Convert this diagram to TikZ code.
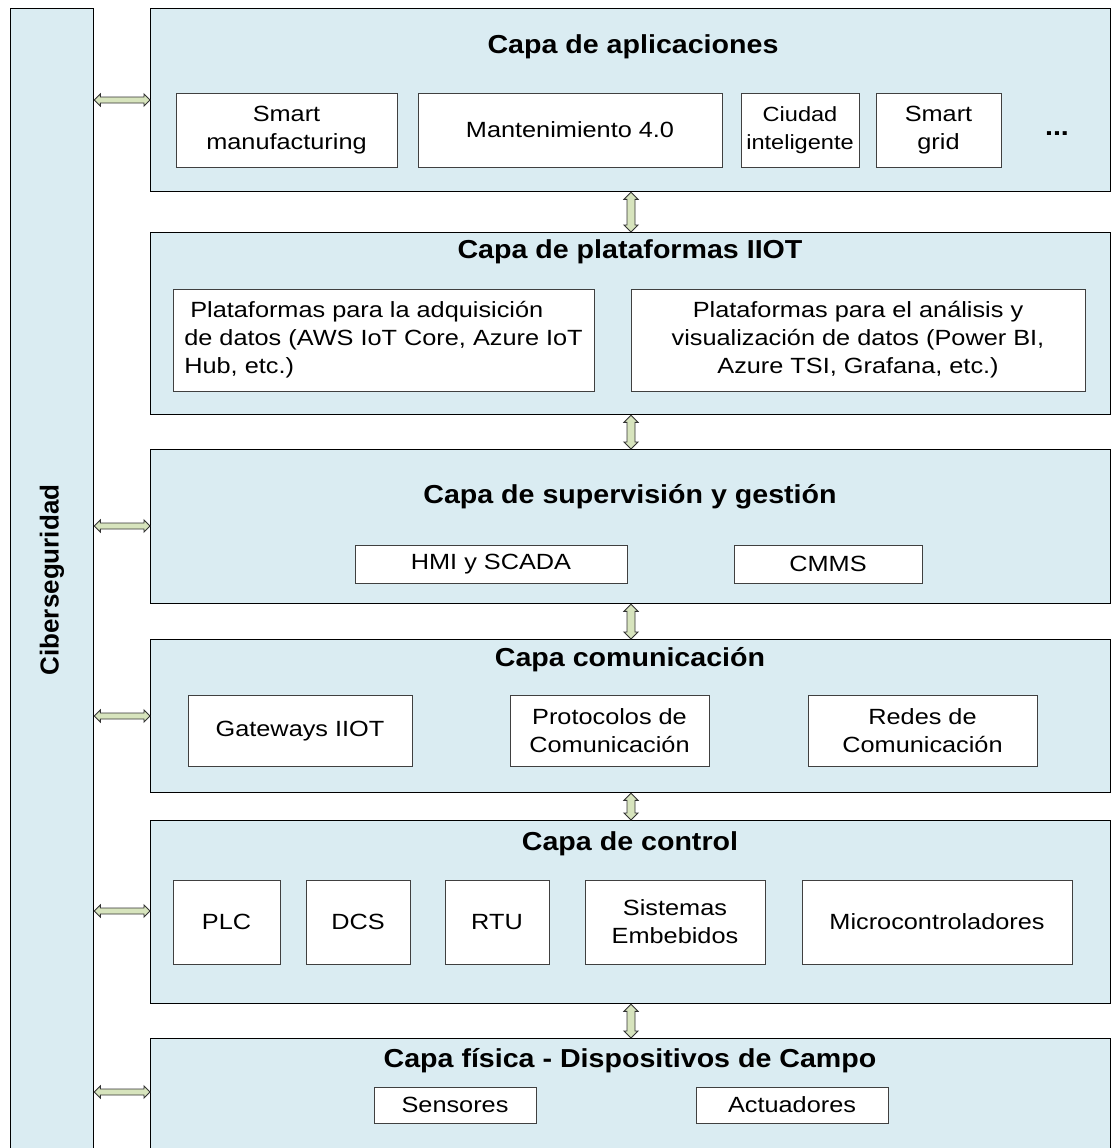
\documentclass[tikz,border=0pt]{standalone}
\usepackage{fontspec}
\setmainfont{Liberation Sans}
\newfontfamily\bodyfam[FakeStretch=1.15]{Liberation Sans}
\newfontfamily\titlefam[FakeStretch=1.1]{Liberation Sans}
\usetikzlibrary{calc}

\definecolor{layerblue}{HTML}{DAECF2}
\definecolor{arrowgreen}{HTML}{D7E4BD}
\definecolor{boxedge}{HTML}{404040}

\newcommand\titlefont{\titlefam\fontsize{26}{30}\selectfont\bfseries}
\newcommand\sidefont{\fontsize{26}{30}\selectfont\bfseries}
\newcommand\bodyfont{\bodyfam\fontsize{22}{28}\selectfont}
\newcommand\smallbodyfont{\bodyfam\fontsize{20.5}{28}\selectfont}

% horizontal double block arrow from #1 (left tip) to #2 (right tip)
\newcommand\hdbl[2]{%
  \draw[blockarrow] (#1) -- ++(6,-6) -- ++(0,3) -- ($(#2)+(-6,-3)$) -- ++(0,-3)
    -- (#2) -- ++(-6,6) -- ++(0,-3) -- ($(#1)+(6,3)$) -- ++(0,3) -- cycle;}
% vertical double block arrow from #1 (top tip) to #2 (bottom tip)
\newcommand\vdbl[2]{%
  \draw[blockarrow] (#1) -- ++(7,7) -- ++(-3,0) -- ($(#2)+(4,-7)$) -- ++(3,0)
    -- (#2) -- ++(-7,-7) -- ++(3,0) -- ($(#1)+(-4,7)$) -- ++(-3,0) -- cycle;}

\begin{document}
\begin{tikzpicture}[x=1pt,y=-1pt,
  layer/.style={draw=black, line width=1.3pt, fill=layerblue, anchor=north west, inner sep=0pt},
  item/.style={draw=boxedge, line width=1pt, fill=white, align=center, font=\bodyfont, inner sep=1pt},
  layertitle/.style={font=\titlefont, inner sep=0pt},
  blockarrow/.style={draw=black!80, line width=0.9pt, fill=arrowgreen, line join=miter}]

\clip (0,0) rectangle (1112,1148);
\fill[white] (0,0) rectangle (1112,1148);

% security bar on the left
\node[layer, minimum width=83pt, minimum height=1180pt] (sec) at (10,8) {};
\node[rotate=90, font=\sidefont] (sectext) at (52,580) {Ciberseguridad};

% layers
\node[layer, minimum width=960pt, minimum height=183pt] (L1) at (150,8) {};
\node[layer, minimum width=960pt, minimum height=182pt] (L2) at (150,232) {};
\node[layer, minimum width=960pt, minimum height=154pt] (L3) at (150,449) {};
\node[layer, minimum width=960pt, minimum height=153pt] (L4) at (150,639) {};
\node[layer, minimum width=960pt, minimum height=183pt] (L5) at (150,820) {};
\node[layer, minimum width=960pt, minimum height=160pt] (L6) at (150,1038) {};

% layer titles
\node[layertitle] (T1) at (633,47) {Capa de aplicaciones};
\node[layertitle] (T2) at (630,252) {Capa de plataformas IIOT};
\node[layertitle] (T3) at (630,497) {Capa de supervisión y gestión};
\node[layertitle] (T4) at (630,660) {Capa comunicación};
\node[layertitle] (T5) at (630,844) {Capa de control};
\node[layertitle] (T6) at (630,1061) {Capa física - Dispositivos de Campo};

% application layer
\node[item, minimum width=221pt, minimum height=74pt] (a1) at (286.5,130) {Smart\\manufacturing};
\node[item, minimum width=304pt, minimum height=74pt] (a2) at (570,130) {Mantenimiento 4.0};
\node[item, minimum width=118pt, minimum height=74pt, font=\smallbodyfont] (a3) at (800,130) {Ciudad\\inteligente};
\node[item, minimum width=125pt, minimum height=74pt] (a4) at (938.5,130) {Smart\\grid};
\node[font=\titlefont] (a5) at (1057,134) {...};

% platform layer
\node[item, minimum width=421pt, minimum height=102pt, align=left] (p1) at (383.5,340)
  {\hspace{6pt}Plataformas para la adquisición\\de datos (AWS IoT Core, Azure IoT\\Hub, etc.)};
\node[item, minimum width=454pt, minimum height=102pt] (p2) at (858,340)
  {Plataformas para el análisis y\\visualización de datos (Power BI,\\Azure TSI, Grafana, etc.)};

% supervision layer
\node[item, minimum width=272pt, minimum height=38pt] (s1) at (491,564) {HMI y SCADA};
\node[item, minimum width=188pt, minimum height=38pt] (s2) at (828,564) {CMMS};

% communication layer
\node[item, minimum width=224pt, minimum height=71pt] (c1) at (300,731) {Gateways IIOT};
\node[item, minimum width=199pt, minimum height=71pt] (c2) at (609.5,731) {Protocolos de\\Comunicación};
\node[item, minimum width=229pt, minimum height=71pt] (c3) at (922.5,731) {Redes de\\Comunicación};

% control layer
\node[item, minimum width=107pt, minimum height=84pt] (k1) at (226.5,922) {PLC};
\node[item, minimum width=104pt, minimum height=84pt] (k2) at (358,922) {DCS};
\node[item, minimum width=104pt, minimum height=84pt] (k3) at (497,922) {RTU};
\node[item, minimum width=180pt, minimum height=84pt] (k4) at (675,922) {Sistemas\\Embebidos};
\node[item, minimum width=270pt, minimum height=84pt] (k5) at (937,922) {Microcontroladores};

% field layer
\node[item, minimum width=162pt, minimum height=36pt] (f1) at (455,1105) {Sensores};
\node[item, minimum width=192pt, minimum height=36pt] (f2) at (792,1105) {Actuadores};

% links between the security bar and the layers
\foreach \L/\yy in {L1/100, L3/526, L4/716, L5/911, L6/1092}{
  \coordinate (sa) at (sec.east |- 0,\yy);
  \coordinate (sb) at (\L.west |- 0,\yy);
  \hdbl{sa}{sb}
}

% links between neighbouring layers
\foreach \A/\B in {L1/L2, L2/L3, L3/L4, L4/L5, L5/L6}{
  \coordinate (va) at (631,0 |- \A.south);
  \coordinate (vb) at (631,0 |- \B.north);
  \vdbl{va}{vb}
}
\end{tikzpicture}
\end{document}
